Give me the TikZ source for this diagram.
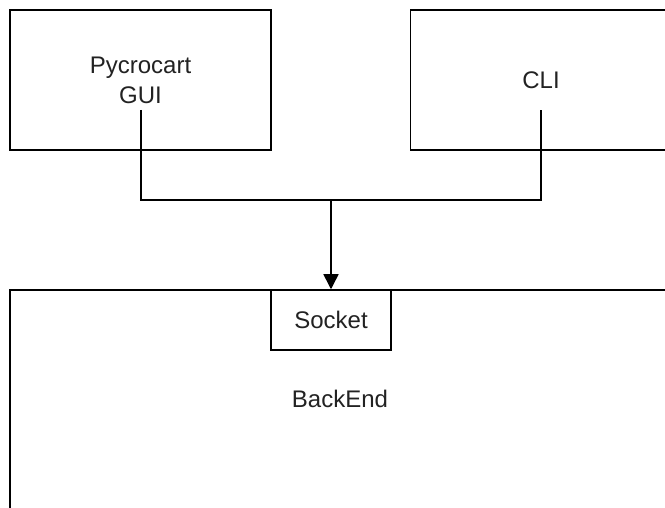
\documentclass[tikz,border=0pt]{standalone}
\usepackage{fontspec}
\setmainfont{Liberation Sans}
\usetikzlibrary{arrows.meta,calc}

\definecolor{ink}{HTML}{222222}

\tikzset{
  block/.style={draw=black, line width=1.5pt, fill=white, rectangle,
    inner sep=0pt, text=ink, align=center,
    font=\fontsize{24}{30}\selectfont},
  caption/.style={inner sep=0pt, text=ink, font=\fontsize{24}{30}\selectfont},
  wire/.style={draw=black, line width=1.5pt},
  arrowline/.style={wire, -{Triangle[length=15pt, width=15pt]}},
}

\begin{document}
\begin{tikzpicture}[x=1pt, y=-1pt]
  \clip (0,0) rectangle (665,508);
  \fill[white] (0,0) rectangle (665,508);

  % front ends
  \node[block, minimum width=261pt, minimum height=140pt] (gui) at (140.5,80) {Pycrocart\\GUI};
  \node[block, minimum width=261pt, minimum height=140pt] (cli) at (541,80) {CLI};

  % back end with its socket
  \node[block, minimum width=662pt, minimum height=222pt] (backend) at (341,401) {};
  \node[caption] (backendtxt) at (340,399) {BackEnd};
  \node[block, minimum width=120pt, minimum height=60pt] (socket) at (331,320) {Socket};

  % wiring
  \coordinate (guiout) at ($(gui.center)+(0.5,30)$);
  \coordinate (cliout) at ($(cli.center)+(0,30)$);
  \coordinate (join) at (331,200);
  \draw[wire] (guiout) |- (join) -| (cliout);
  \draw[arrowline] (join) -- (socket.north);
\end{tikzpicture}
\end{document}
